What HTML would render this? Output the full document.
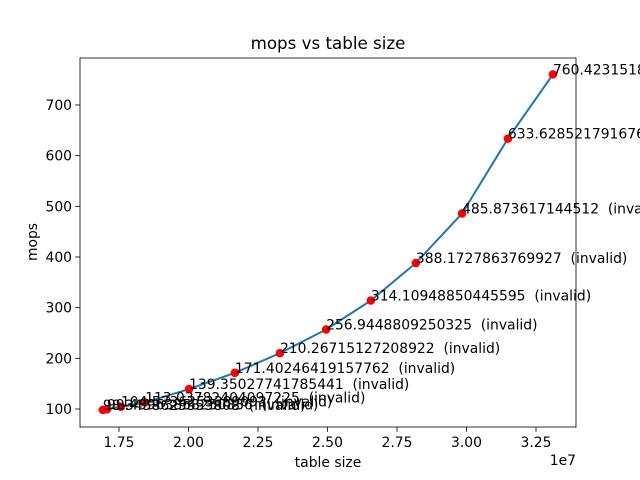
<!DOCTYPE html>
<html><head><meta charset="utf-8"><style>
body{margin:0;background:#fff;}
svg{display:block;font-family:"DejaVu Sans","Liberation Sans",sans-serif;}
text{white-space:pre;}
</style></head><body>
<svg id="c" width="640" height="480"></svg>
<script>
const sizes=[1.692,1.707,1.757,1.844,2.002,2.167,2.329,2.495,2.656,2.818,2.984,3.149,3.311];
const mops=[98.3,99.5,104.6,113.0,139.35,171.40,210.27,256.94,314.11,388.17,485.87,633.63,760.42];
const labels=["98.3458625553808","99.49963858250836","104.5736253389093","113.03782404097225","139.35027741785441","171.40246419157762","210.26715127208922","256.9448809250325","314.10948850445595","388.1727863769927","485.873617144512","633.6285217916767","760.4231518"];
const xTicks=[1.75,2.00,2.25,2.50,2.75,3.00,3.25];
const yTicks=[100,200,300,400,500,600,700];
const NS="http://www.w3.org/2000/svg";
const svg=document.getElementById('c');
const L=80,R=576,T=58,B=427;
function X(v){return 119+(v-1.75)/0.25*69.5;}
function Y(v){return 409-(v-100)/100*50.67;}
function el(t,a,txt){const e=document.createElementNS(NS,t);for(const k in a)e.setAttribute(k,a[k]);if(txt!==undefined)e.textContent=txt;svg.appendChild(e);return e;}
let t=el('text',{x:328,y:49,'text-anchor':'middle','font-size':16.7},'mops vs table size');


xTicks.forEach(v=>{const x=X(v);
 let l=el('line',{x1:x,x2:x,y1:B,y2:B+4.9,stroke:'#000','stroke-width':0.8});
 
 
 let tx=el('text',{x:x,y:B+20,'text-anchor':'middle','font-size':13.9},v.toFixed(2));
 
 
});
yTicks.forEach(v=>{const y=Y(v);
 let l=el('line',{x1:L-4.9,x2:L,y1:y,y2:y,stroke:'#000','stroke-width':0.8});
 
 
 let tx=el('text',{x:L-8,y:y+5,'text-anchor':'end','font-size':13.9},String(v));
 
 
});
t=el('text',{x:328,y:467,'text-anchor':'middle','font-size':13.9},'table size');


t=el('text',{x:37,y:242,'text-anchor':'middle','font-size':13.9,transform:'rotate(-90 37 242)'},'mops');


t=el('text',{x:576,y:465,'text-anchor':'end','font-size':13.9},'1e7');


let d=sizes.map((s,i)=>(i?'L':'M')+X(s)+','+Y(mops[i])).join(' ');
let p=el('path',{d:d,fill:'none',stroke:'#1f77b4','stroke-width':2});


sizes.forEach((s,i)=>{
 let c=el('circle',{cx:X(s),cy:Y(mops[i]),r:4.3,fill:'#ff0000'});
 
 
});
sizes.forEach((s,i)=>{
 let tx=el('text',{x:X(s),y:Y(mops[i]),'font-size':13.9},labels[i]+'  (invalid)');
 
 
});
let f=el('rect',{x:L,y:T,width:R-L,height:B-T,fill:'none',stroke:'#000','stroke-width':0.8});


</script>
</body></html>
